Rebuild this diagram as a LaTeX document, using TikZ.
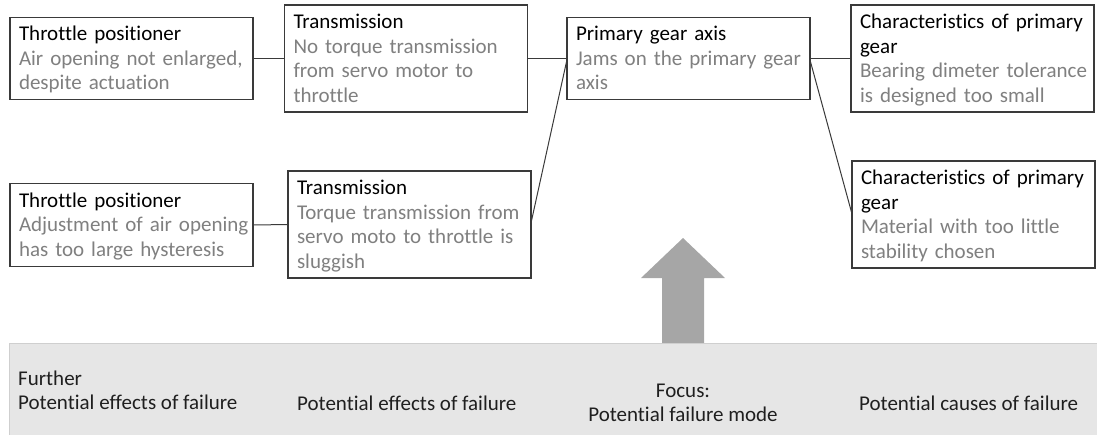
\documentclass[tikz,border=0pt]{standalone}
\usepackage{fontspec}
\setmainfont{Carlito}[Ligatures=NoCommon]

\definecolor{desc}{HTML}{808080}
\definecolor{edge}{HTML}{3A3A3A}
\definecolor{bandfill}{HTML}{E6E6E6}
\definecolor{bandline}{HTML}{CFCFCF}
\definecolor{arrowfill}{HTML}{A6A6A6}
\definecolor{labeltext}{HTML}{1F1F1F}

% struts fixing the space above the first and below the last line of a box
\newcommand{\firststrut}{\rule{0pt}{23.5pt}}
\newcommand{\laststrut}{\rule[-10pt]{0pt}{10pt}}
% black heading, grey description
\newcommand{\fmeaentry}[2]{\firststrut #1\\\color{desc}#2\laststrut}

\tikzset{
  fmeabox/.style={draw=edge, line width=1.1pt, fill=white,
    text width=225pt, inner xsep=9pt, inner ysep=0pt, align=left,
    font=\fontsize{21}{24.5}\selectfont, text=black},
  link/.style={draw=edge, line width=1pt},
  bandlabel/.style={inner sep=0pt, text=labeltext,
    font=\fontsize{21}{24}\selectfont},
}

\begin{document}
\begin{tikzpicture}[x=1pt, y=-1pt]
\useasboundingbox (0,0) rectangle (1097,434);

% focus arrow and category band
\fill[arrowfill] (662,350) -- (662,278) -- (641,278) -- (683,238)
  -- (725,278) -- (704,278) -- (704,350) -- cycle;
\filldraw[fill=bandfill, draw=bandline, line width=1pt] (9,343) rectangle (1110,450);

% upper chain
\node[fmeabox] (b1) at (131.5,58.5)
  {\fmeaentry{\mbox{Throttle positioner}}{\mbox{Air opening not enlarged,}\\\mbox{despite actuation}}};
\node[fmeabox] (b2) at (406,58.5)
  {\fmeaentry{\mbox{Transmission}}{\mbox{No torque transmission}\\\mbox{from servo motor to}\\\mbox{throttle}}};
\node[fmeabox] (b3) at (688.5,58.5)
  {\fmeaentry{\mbox{Primary gear axis}}{\mbox{Jams on the primary gear}\\\mbox{axis}}};
\node[fmeabox] (b4) at (972.5,58.5)
  {\fmeaentry{\mbox{Characteristics of primary}\\\mbox{gear}}{\mbox{Bearing dimeter tolerance}\\\mbox{is designed too small}}};

% lower chain
\node[fmeabox] (b5) at (131.5,225)
  {\fmeaentry{\mbox{Throttle positioner}}{\mbox{Adjustment of air opening}\\\mbox{has too large hysteresis}}};
\node[fmeabox] (b6) at (409.5,224.5)
  {\fmeaentry{\mbox{Transmission}}{\mbox{Torque transmission from}\\\mbox{servo moto to throttle is}\\\mbox{sluggish}}};
\node[fmeabox] (b7) at (973.5,214.5)
  {\fmeaentry{\mbox{Characteristics of primary}\\\mbox{gear}}{\mbox{Material with too little}\\\mbox{stability chosen}}};

% connectors
\draw[link] (b1.east) -- (b2.west);
\draw[link] (b2.east) -- (b3.west);
\draw[link] (b3.east) -- (b4.west);
\draw[link] (b5.east) -- (b6.west);
\draw[link] ([yshift=4pt]b6.east) -- ([yshift=-3.5pt]b3.west);
\draw[link] ([yshift=-3.5pt]b3.east) -- ([yshift=2.5pt]b7.west);

% category labels
\node[bandlabel, anchor=north west, align=left] (c1) at (18,370)
  {\rule{0pt}{15pt}Further\\Potential effects of failure};
\node[bandlabel, anchor=base west] (c2) at (297,410) {Potential effects of failure};
\node[bandlabel, anchor=north, align=center] (c3) at (683,382)
  {\rule{0pt}{15pt}Focus:\\Potential failure mode};
\node[bandlabel, anchor=base west] (c4) at (859,410) {Potential causes of failure};
\end{tikzpicture}
\end{document}
